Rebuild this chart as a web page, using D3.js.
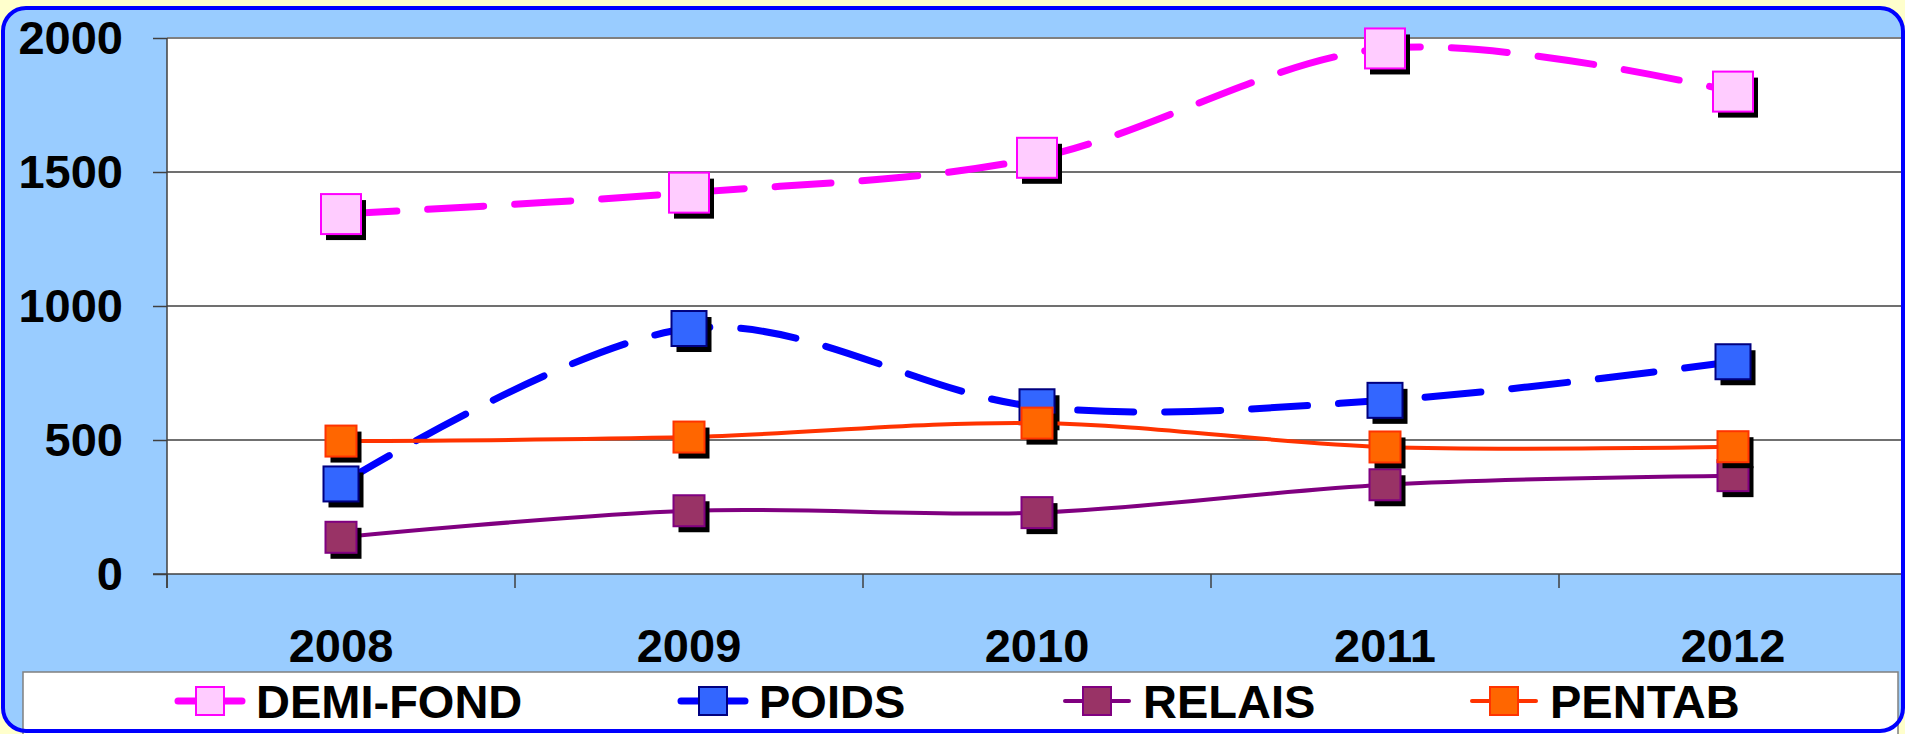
<!DOCTYPE html>
<html>
<head>
<meta charset="utf-8">
<script src="https://cdnjs.cloudflare.com/ajax/libs/d3/7.8.5/d3.min.js"></script>
<style>
  html, body { margin: 0; padding: 0; background: #FFFFCC; }
  svg { display: block; font-family: "Liberation Sans", Arial, sans-serif; }
</style>
</head>
<body>
<svg id="chart"></svg>
<script>
var width = 1905
var height = 734

// data
var years = ['2008', '2009', '2010', '2011', '2012']
var yTicks = [0, 500, 1000, 1500, 2000]
var demiFond = [1343, 1423, 1553, 1961, 1800]
var poids = [336, 916, 624, 648, 792]
var relais = [137, 236, 229, 333, 367]
var pentab = [496, 511, 563, 474, 475]

var series = [
  { name: 'DEMI-FOND', values: demiFond, line: '#FF00FF', fill: '#FFCCFF', stroke: '#FF00FF', width: 7, dash: '56,31', size: 40 },
  { name: 'POIDS', values: poids, line: '#0000FF', fill: '#3366FF', stroke: '#000080', width: 7, dash: '56,31', size: 35 },
  { name: 'RELAIS', values: relais, line: '#800080', fill: '#993366', stroke: '#800080', width: 4, dash: null, size: 31 },
  { name: 'PENTAB', values: pentab, line: '#FF3300', fill: '#FF6600', stroke: '#FF3300', width: 4, dash: null, size: 31 }
]

var plot = { left: 167, right: 1907, top: 38, bottom: 574 }
// legend symbol centres
var legendX = [210, 713, 1097, 1504]

var svg = d3.select('#chart')
  .attr('width', width)
  .attr('height', height)

// outer chart box
svg.append('rect')
  .attr('x', 3).attr('y', 8)
  .attr('width', 1900).attr('height', 723)
  .attr('rx', 23)
  .attr('fill', '#99CCFF')

var xScale = d3.scaleBand()
  .domain(years)
  .range([plot.left, plot.right])

var yScale = d3.scaleLinear()
  .domain([0, 2000])
  .range([plot.bottom, plot.top])

// plot area
svg.append('rect')
  .attr('x', plot.left).attr('y', plot.top)
  .attr('width', plot.right - plot.left)
  .attr('height', plot.bottom - plot.top)
  .attr('fill', '#fff')

svg.append('g')
  .selectAll('line')
  .data(yTicks.filter(d => d > 0))
  .enter().append('line')
  .attr('x1', plot.left).attr('x2', plot.right)
  .attr('y1', d => yScale(d)).attr('y2', d => yScale(d))
  .attr('stroke', d => d == 2000 ? '#808080' : '#404040')
  .attr('stroke-width', d => d == 2000 ? 2 : 1.3)

var yAxis = d3.axisLeft(yScale)
  .tickValues(yTicks)
  .tickFormat(d3.format('d'))
  .tickSize(14)
  .tickPadding(30)

var gy = svg.append('g')
  .attr('transform', 'translate(' + [plot.left, 0] + ')')
  .call(yAxis)
gy.select('.domain').remove()
gy.append('line')
  .attr('x1', 0).attr('x2', 0)
  .attr('y1', plot.top).attr('y2', plot.bottom + 14)
  .attr('stroke', '#404040').attr('stroke-width', 1.5)

var xAxis = d3.axisBottom(xScale)
  .tickSize(0)
  .tickPadding(55)

var gx = svg.append('g')
  .attr('transform', 'translate(' + [0, plot.bottom] + ')')
  .call(xAxis)
gx.select('.domain').remove()
gx.append('line')
  .attr('x1', plot.left - 14).attr('x2', plot.right)
  .attr('y1', 0).attr('y2', 0)
  .attr('stroke', '#404040').attr('stroke-width', 1.5)

// category boundary ticks
var bounds = years.map(d => xScale(d)).concat([xScale.range()[1]])
gx.selectAll('.bound')
  .data(bounds)
  .enter().append('line')
  .attr('class', 'bound')
  .attr('x1', d => d).attr('x2', d => d)
  .attr('y1', 0).attr('y2', 14)
  .attr('stroke', '#404040').attr('stroke-width', 1.5)

svg.selectAll('.tick line').attr('stroke', '#404040').attr('stroke-width', 1.5)
svg.selectAll('.tick text')
  .attr('fill', '#000')
  .style('font-size', '47px')
  .style('font-weight', 'bold')
  .style('font-family', '"Liberation Sans", Arial, sans-serif')

var cx = d => xScale(d) + xScale.bandwidth() / 2

var line = d3.line()
  .x((d, i) => cx(years[i]))
  .y(d => yScale(d))
  .curve(d3.curveCardinal.tension(0))

series.forEach(s => {
  var g = svg.append('g')
  g.append('path')
    .attr('d', line(s.values))
    .attr('fill', 'none')
    .attr('stroke', s.line)
    .attr('stroke-width', s.width)
    .attr('stroke-linecap', s.dash ? 'round' : 'butt')
    .attr('stroke-dasharray', s.dash)

  var pts = s.values.map((v, i) => ({ x: cx(years[i]), y: yScale(v) }))
  g.selectAll('.shadow')
    .data(pts)
    .enter().append('rect')
    .attr('class', 'shadow')
    .attr('x', d => d.x - s.size / 2 + 5)
    .attr('y', d => d.y - s.size / 2 + 6)
    .attr('width', s.size).attr('height', s.size)
    .attr('fill', '#000')
  g.selectAll('.marker')
    .data(pts)
    .enter().append('rect')
    .attr('class', 'marker')
    .attr('x', d => d.x - s.size / 2)
    .attr('y', d => d.y - s.size / 2)
    .attr('width', s.size).attr('height', s.size)
    .attr('fill', s.fill)
    .attr('stroke', s.stroke)
    .attr('stroke-width', 2)
})

// legend
svg.append('rect')
  .attr('x', 23).attr('y', 672)
  .attr('width', 1875).attr('height', 70)
  .attr('fill', '#fff')
  .attr('stroke', '#808080')
  .attr('stroke-width', 1.5)

series.forEach((s, i) => {
  var g = svg.append('g').attr('transform', 'translate(' + [legendX[i], 701] + ')')
  g.append('line')
    .attr('x1', -32).attr('x2', 32)
    .attr('stroke', s.line)
    .attr('stroke-width', s.width)
    .attr('stroke-linecap', 'round')
  g.append('rect')
    .attr('x', -14).attr('y', -14)
    .attr('width', 28).attr('height', 28)
    .attr('fill', s.fill)
    .attr('stroke', s.stroke)
    .attr('stroke-width', 2)
  g.append('text')
    .attr('x', 46).attr('y', 17)
    .style('font-size', '47px')
    .style('font-weight', 'bold')
    .text(s.name)
})

// outer border on top
svg.append('rect')
  .attr('x', 3).attr('y', 8)
  .attr('width', 1900).attr('height', 723)
  .attr('rx', 23)
  .attr('fill', 'none')
  .attr('stroke', '#0000FF')
  .attr('stroke-width', 4)
</script>
</body>
</html>
